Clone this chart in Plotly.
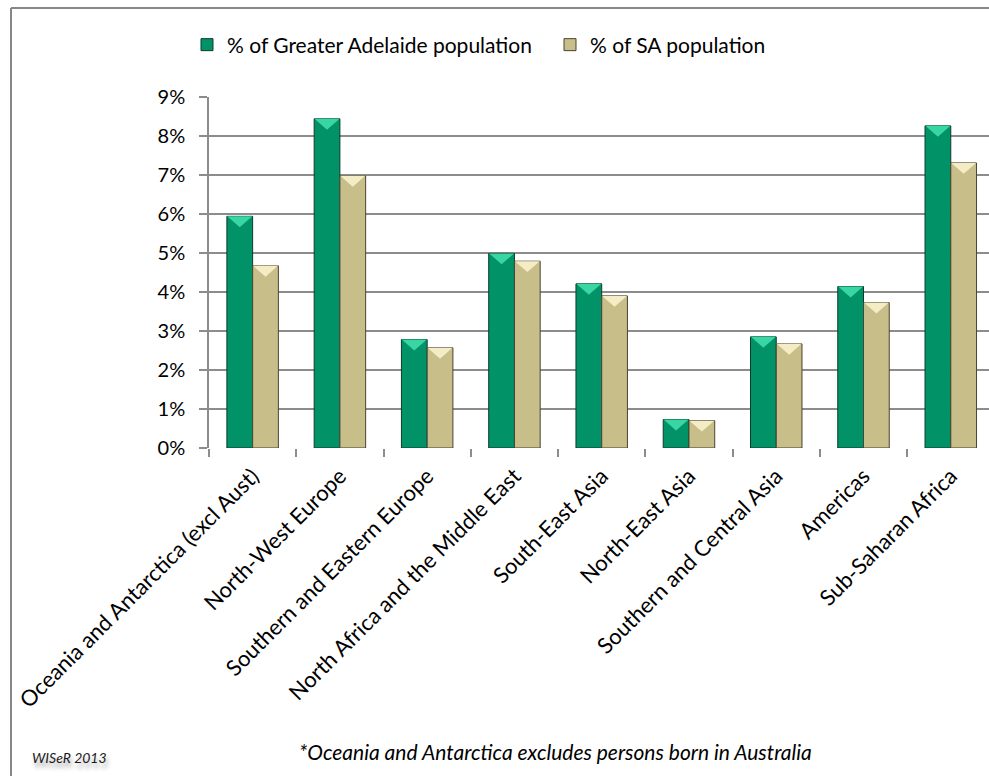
import plotly.graph_objects as go

# Birthplace regions (x categories)
regions = [
    "Oceania and Antarctica (excl Aust)",
    "North-West Europe",
    "Southern and Eastern Europe",
    "North Africa and the Middle East",
    "South-East Asia",
    "North-East Asia",
    "Southern and Central Asia",
    "Americas",
    "Sub-Saharan Africa",
]

# Share of overseas-born arrivals, percent
greater_adelaide = [5.94, 8.44, 2.78, 4.99, 4.21, 0.73, 2.85, 4.14, 8.26]
sa_total = [4.67, 6.98, 2.57, 4.79, 3.90, 0.70, 2.67, 3.73, 7.31]

series_names = ["% of Greater Adelaide population", "% of SA population"]
y_ticks = [0, 1, 2, 3, 4, 5, 6, 7, 8, 9]

W, H = 989, 776
ML, MR, MT, MB = 209, 0, 97, 328
BARGAP = 0.41
BAR_W = (1 - BARGAP) / 2

FONT = "Lato, 'Open Sans', sans-serif"
GRID = "#8c8c8c"

fills = ["#029268", "#c8be8a"]
edges = ["#0f3b2a", "#4a4430"]
bevel = ["#38d6a2", "#f3ecc4"]

xs = list(range(len(regions)))

fig = go.Figure()
for k, (vals, name) in enumerate(zip([greater_adelaide, sa_total], series_names)):
    fig.add_trace(go.Bar(
        x=xs, y=vals, name=name,
        marker=dict(color=fills[k], line=dict(color=edges[k], width=1)),
    ))

# bevelled top of each bar: a light triangle pointing down from the bar's top edge
bevel_depth = 0.28
shapes = []
for k, vals in enumerate([greater_adelaide, sa_total]):
    for i, v in enumerate(vals):
        x0 = i - BAR_W + k * BAR_W
        x1 = x0 + BAR_W
        xm = (x0 + x1) / 2
        shapes.append(dict(
            type="path", xref="x", yref="y",
            path=f"M {x0 + 0.004},{v} L {x1 - 0.004},{v} L {xm},{v - bevel_depth} Z",
            fillcolor=bevel[k], line=dict(width=0), layer="above",
        ))

# chart frame (left and top edges; the rest runs off the page)
plot_w = W - ML - MR
plot_h = H - MT - MB
def px_x(p):
    return (p - ML) / plot_w
def px_y(p):
    return (H - MB - p) / plot_h

frame = dict(color="#878787", width=2)
shapes.append(dict(type="line", xref="paper", yref="paper",
                   x0=px_x(11), x1=px_x(11), y0=px_y(900), y1=px_y(8), line=frame))
shapes.append(dict(type="line", xref="paper", yref="paper",
                   x0=px_x(11), x1=px_x(1200), y0=px_y(8), y1=px_y(8), line=frame))

fig.update_layout(
    width=W, height=H,
    margin=dict(l=ML, r=MR, t=MT, b=MB, pad=0, autoexpand=False),
    paper_bgcolor="white", plot_bgcolor="white",
    barmode="group", bargap=BARGAP, bargroupgap=0,
    font=dict(family=FONT, size=20, color="#000000"),
    showlegend=True,
    legend=dict(
        orientation="h", x=px_x(187), xanchor="left",
        y=px_y(45), yanchor="middle",
        font=dict(family=FONT, size=21, color="#000000"),
        entrywidth=318, entrywidthmode="pixels",
        bgcolor="rgba(0,0,0,0)",
    ),
    xaxis=dict(
        range=[-0.5, len(regions) - 0.5 - 0.062],
        tickmode="array", tickvals=xs, ticktext=regions,
        tickangle=-45, ticks="", showgrid=False, zeroline=False,
        showline=False, automargin=False, ticklabelstandoff=10,
        tickfont=dict(family=FONT, size=22, color="#000000"),
        minor=dict(
            tickmode="array",
            tickvals=[i - 0.5 for i in range(len(regions) + 1)],
            ticks="outside", ticklen=8, tickwidth=1.5, tickcolor=GRID,
            showgrid=False,
        ),
    ),
    yaxis=dict(
        range=[0, 9], tickmode="array", tickvals=y_ticks,
        ticktext=[f"{t}%" for t in y_ticks],
        showgrid=True, gridcolor=GRID, gridwidth=1.5,
        zeroline=False, showline=True, linecolor=GRID, linewidth=1.5,
        ticks="outside", ticklen=8, tickwidth=1.5, tickcolor=GRID,
        ticklabelstandoff=10, automargin=False,
        tickfont=dict(family=FONT, size=20, color="#000000"),
    ),
    shapes=shapes,
    annotations=[
        dict(
            text="*Oceania and Antarctica excludes persons born in Australia",
            xref="paper", yref="paper", x=px_x(555), y=px_y(751),
            xanchor="center", yanchor="middle", showarrow=False,
            font=dict(family=FONT, size=21, color="#000000", style="italic"),
        ),
        dict(
            text="WISeR 2013",
            xref="paper", yref="paper", x=px_x(30), y=px_y(757),
            xanchor="left", yanchor="middle", showarrow=False,
            font=dict(family=FONT, size=14, color="#1a1a1a", style="italic",
                      shadow="2px 5px 4px rgba(0,0,0,0.35)"),
        ),
    ],
)

fig.write_html(
    "out.html",
    config={"displayModeBar": False},
    post_script="document.body.style.margin='0';document.body.style.overflow='hidden';",
)
